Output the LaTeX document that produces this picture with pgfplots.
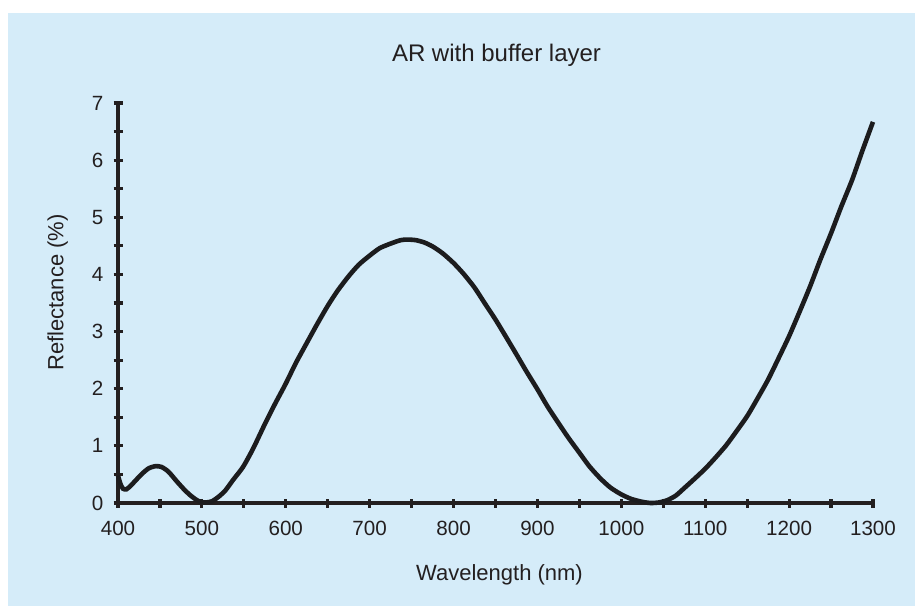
\documentclass[border=0pt]{standalone}
\usepackage{fontspec}
\setmainfont{Liberation Sans}
\usepackage{pgfplots}
\pgfplotsset{compat=1.18}
\definecolor{bgblue}{RGB}{213,236,249}
\definecolor{ink}{RGB}{35,31,32}
\definecolor{curve}{RGB}{28,28,30}
\begin{document}
\begin{tikzpicture}
\useasboundingbox (-59pt,-51.5pt) rectangle (398.5pt,251.5pt);
\fill[white] (-59pt,-51.5pt) rectangle (398.5pt,251.5pt);
\fill[bgblue] (-55pt,-51.5pt) rectangle (398.5pt,245pt);
\begin{axis}[
  at={(0pt,0pt)}, anchor=south west,
  scale only axis,
  width=377.5pt, height=200pt,
  xmin=400, xmax=1300, ymin=0, ymax=7,
  axis x line=bottom, axis y line=left,
  axis line style={-, line width=1.6pt, draw=ink},
  xtick={400,500,...,1300},
  ytick={0,1,...,7},
  minor x tick num=1, minor y tick num=1,
  tick align=center,
  major tick length=4.5pt, minor tick length=4.5pt,
  every tick/.style={line width=1.6pt, draw=ink},
  tick label style={font=\fontsize{10.3}{12}\selectfont, text=ink},
  /pgf/number format/assume math mode=true,
  /pgf/number format/1000 sep={},
  xticklabel style={yshift=-3.5pt},
  yticklabel style={xshift=-1.5pt},
  clip=false,
]
\addplot[curve, line width=2.3pt, smooth, tension=0.4] coordinates {
(400,0.48) (403,0.33) (406,0.25) (410,0.24) (415,0.30) (422,0.41)
(430,0.53) (437,0.61) (445,0.645) (452,0.63) (460,0.55) (470,0.38)
(478,0.25) (485,0.15) (492,0.07) (498,0.02) (505,0.01) (512,0.03)
(520,0.11) (528,0.22) (537,0.40) (549,0.63) (561,0.95) (575,1.38)
(587,1.73) (600,2.09) (612,2.45) (625,2.80) (637,3.12) (650,3.45)
(662,3.72) (675,3.97) (687,4.17) (700,4.33) (712,4.46) (725,4.54)
(737,4.60) (745,4.61) (755,4.60) (765,4.56) (775,4.49) (787,4.37)
(800,4.20) (812,4.01) (825,3.77) (837,3.50) (850,3.21) (862,2.92)
(875,2.60) (887,2.30) (900,1.99) (912,1.69) (925,1.40) (937,1.14)
(950,0.88) (962,0.64) (975,0.43) (987,0.27) (1000,0.15) (1012,0.07)
(1025,0.02) (1035,0.00) (1045,0.01) (1055,0.05) (1065,0.13) (1075,0.26)
(1087,0.42) (1100,0.60) (1112,0.79) (1125,1.01) (1137,1.25) (1150,1.52)
(1162,1.82) (1175,2.16) (1187,2.52) (1200,2.92) (1212,3.33) (1225,3.79)
(1237,4.25) (1250,4.72) (1262,5.18) (1275,5.65) (1287,6.15) (1300,6.67)
};
\end{axis}
\node[anchor=base, text=ink, font=\fontsize{12}{14}\selectfont, inner sep=0pt] at (189.25pt,220.6pt) {AR with buffer layer};
\node[anchor=base, text=ink, font=\fontsize{11}{13}\selectfont, inner sep=0pt] at (190.75pt,-38.5pt) {Wavelength (nm)};
\node[anchor=base, rotate=90, text=ink, font=\fontsize{11}{13}\selectfont, inner sep=0pt] at (-27.35pt,105.25pt) {Reflectance (\%)};
\end{tikzpicture}
\end{document}
